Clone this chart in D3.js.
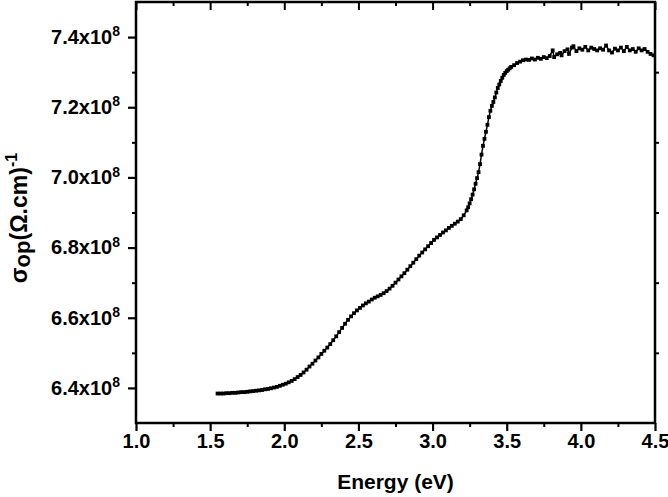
<!DOCTYPE html>
<html>
<head>
<meta charset="utf-8">
<script src="https://cdn.jsdelivr.net/npm/d3@7"></script>
<style>
  body { margin: 0; background: #fff; }
  svg text { font-family: "Liberation Sans", Arial, sans-serif; font-weight: bold; fill: #000; }
</style>
</head>
<body>
<svg id="chart"></svg>
<script>
// photon energy (eV)
const energy = [
  1.55, 1.57, 1.59, 1.61, 1.63, 1.65, 1.67, 1.69, 1.71, 1.73, 1.75, 1.77, 1.79,
  1.81, 1.83, 1.85, 1.87, 1.89, 1.91, 1.93, 1.95, 1.97, 1.99, 2.01, 2.03, 2.05,
  2.07, 2.09, 2.11, 2.13, 2.15, 2.17, 2.19, 2.21, 2.23, 2.25, 2.27, 2.29, 2.31,
  2.33, 2.35, 2.37, 2.39, 2.41, 2.43, 2.45, 2.47, 2.49, 2.51, 2.53, 2.55, 2.57,
  2.59, 2.61, 2.63, 2.65, 2.67, 2.69, 2.71, 2.73, 2.75, 2.77, 2.79, 2.81, 2.83,
  2.85, 2.87, 2.89, 2.91, 2.93, 2.95, 2.97, 2.99, 3.01, 3.03, 3.05, 3.07, 3.09,
  3.11, 3.13, 3.15, 3.17, 3.19, 3.21, 3.23, 3.24, 3.25, 3.26, 3.27, 3.28, 3.29,
  3.30, 3.31, 3.32, 3.33, 3.34, 3.35, 3.36, 3.37, 3.38, 3.39, 3.40, 3.41, 3.42,
  3.43, 3.44, 3.45, 3.46, 3.47, 3.48, 3.49, 3.50, 3.51, 3.52, 3.53, 3.55, 3.57,
  3.59, 3.61, 3.63, 3.65, 3.67, 3.69, 3.71, 3.73, 3.75, 3.77, 3.79, 3.81, 3.82,
  3.84, 3.86, 3.87, 3.89, 3.91, 3.92, 3.94, 3.95, 3.97, 3.99, 4.01, 4.03, 4.05,
  4.07, 4.09, 4.11, 4.13, 4.15, 4.17, 4.19, 4.21, 4.23, 4.25, 4.27, 4.29, 4.31,
  4.33, 4.35, 4.37, 4.39, 4.41, 4.43, 4.45, 4.47, 4.49
];

// optical conductivity, in units of 10^8 (Ω.cm)^-1
const sigmaOp = [
  6.384, 6.384, 6.384, 6.385, 6.385, 6.386, 6.386, 6.387, 6.388, 6.388, 6.389, 6.390, 6.391,
  6.392, 6.393, 6.394, 6.396, 6.397, 6.399, 6.401, 6.403, 6.406, 6.409, 6.412, 6.416, 6.420,
  6.425, 6.431, 6.437, 6.444, 6.452, 6.461, 6.469, 6.478, 6.487, 6.497, 6.506, 6.515, 6.525,
  6.536, 6.547, 6.559, 6.571, 6.583, 6.594, 6.604, 6.613, 6.621, 6.628, 6.635, 6.641, 6.646,
  6.652, 6.657, 6.661, 6.665, 6.670, 6.676, 6.683, 6.691, 6.700, 6.709, 6.718, 6.727, 6.737,
  6.747, 6.757, 6.767, 6.777, 6.786, 6.795, 6.804, 6.813, 6.822, 6.829, 6.836, 6.843, 6.849,
  6.856, 6.862, 6.868, 6.874, 6.881, 6.892, 6.906, 6.915, 6.926, 6.938, 6.951, 6.966, 6.982,
  6.998, 7.015, 7.038, 7.065, 7.090, 7.110, 7.130, 7.150, 7.172, 7.190, 7.204, 7.215, 7.228,
  7.242, 7.255, 7.265, 7.275, 7.284, 7.292, 7.298, 7.303, 7.307, 7.311, 7.315, 7.320, 7.326,
  7.330, 7.334, 7.336, 7.335, 7.339, 7.336, 7.341, 7.338, 7.343, 7.340, 7.346, 7.362, 7.343,
  7.351, 7.355, 7.348, 7.360, 7.365, 7.352, 7.370, 7.374, 7.360, 7.368, 7.364, 7.372, 7.362,
  7.370, 7.366, 7.362, 7.368, 7.364, 7.376, 7.362, 7.356, 7.367, 7.362, 7.370, 7.360, 7.372,
  7.362, 7.366, 7.358, 7.368, 7.362, 7.366, 7.358, 7.352, 7.348
];

// axis ticks
const xTicks = [1.0, 1.5, 2.0, 2.5, 3.0, 3.5, 4.0, 4.5];
const xMinorTicks = [1.25, 1.75, 2.25, 2.75, 3.25, 3.75, 4.25];
const yTicks = [6.4, 6.6, 6.8, 7.0, 7.2, 7.4];
const yMinorTicks = [6.5, 6.7, 6.9, 7.1, 7.3];

const config = {
  width: 668,
  height: 497,
  margin: { top: 2, right: 13, bottom: 74, left: 136 }
};

const width = config.width - config.margin.left - config.margin.right;
const height = config.height - config.margin.top - config.margin.bottom;

const svg = d3.select("#chart")
  .attr("width", config.width)
  .attr("height", config.height);

const chart = svg.append("g")
  .attr("transform", `translate(${config.margin.left},${config.margin.top})`);

// scales
const xScale = d3.scaleLinear().domain([1.0, 4.5]).range([0, width]);
const yScale = d3.scaleLinear().domain([6.3, 7.5]).range([height, 0]);

const data = energy.map((e, i) => ({ e: e, s: sigmaOp[i] }));

// helper: style an axis group
function styleAxis(g, lineWidth) {
  g.select(".domain").remove();
  g.selectAll(".tick line").attr("stroke", "#000").attr("stroke-width", lineWidth);
}

// bottom axis (major + minor)
const xAxisG = chart.append("g")
  .attr("transform", `translate(0,${height})`)
  .call(d3.axisBottom(xScale).tickValues(xTicks).tickSize(8).tickPadding(3)
    .tickFormat(d3.format(".1f")));
styleAxis(xAxisG, 2.2);
xAxisG.selectAll("text").style("font-size", "20px");

const xMinorG = chart.append("g")
  .attr("transform", `translate(0,${height})`)
  .call(d3.axisBottom(xScale).tickValues(xMinorTicks).tickSize(4).tickFormat(""));
styleAxis(xMinorG, 2);

// top axis, ticks inward
const xTopG = chart.append("g")
  .call(d3.axisTop(xScale).tickValues(xTicks).tickSize(-8).tickFormat(""));
styleAxis(xTopG, 2);
const xTopMinorG = chart.append("g")
  .call(d3.axisTop(xScale).tickValues(xMinorTicks).tickSize(-4).tickFormat(""));
styleAxis(xTopMinorG, 2);

// left axis (major + minor)
const yAxisG = chart.append("g")
  .call(d3.axisLeft(yScale).tickValues(yTicks).tickSize(8).tickPadding(8));
styleAxis(yAxisG, 2.2);
yAxisG.selectAll("text")
  .style("font-size", "20px")
  .each(function (d) {
    const t = d3.select(this).text(null);
    t.append("tspan").text(d3.format(".1f")(d) + "x10");
    t.append("tspan").text("8").attr("dy", "-0.55em").style("font-size", "14px");
  });

const yMinorG = chart.append("g")
  .call(d3.axisLeft(yScale).tickValues(yMinorTicks).tickSize(4).tickFormat(""));
styleAxis(yMinorG, 2);

// right axis, minor ticks only
const yRightG = chart.append("g")
  .attr("transform", `translate(${width},0)`)
  .call(d3.axisRight(yScale).tickValues(yMinorTicks).tickSize(4).tickFormat(""));
styleAxis(yRightG, 2);

// frame
chart.append("rect")
  .attr("width", width)
  .attr("height", height)
  .attr("fill", "none")
  .attr("stroke", "#000")
  .attr("stroke-width", 2.5);

// data line + square markers
const line = d3.line()
  .x(d => xScale(d.e))
  .y(d => yScale(d.s));

chart.append("path")
  .datum(data)
  .attr("fill", "none")
  .attr("stroke", "#000")
  .attr("stroke-width", 1.5)
  .attr("d", line);

const markerSize = 3.8;
chart.selectAll(".pt")
  .data(data)
  .join("rect")
  .attr("class", "pt")
  .attr("x", d => xScale(d.e) - markerSize / 2)
  .attr("y", d => yScale(d.s) - markerSize / 2)
  .attr("width", markerSize)
  .attr("height", markerSize)
  .attr("fill", "#000");

// axis titles
svg.append("text")
  .attr("x", config.margin.left + width / 2)
  .attr("y", 489)
  .attr("text-anchor", "middle")
  .style("font-size", "21px")
  .text("Energy (eV)");

const yLabel = svg.append("text")
  .attr("transform", "translate(27,218) rotate(-90)")
  .attr("text-anchor", "middle")
  .style("font-size", "23px");
yLabel.append("tspan").text("σ");
yLabel.append("tspan").text("op").attr("dy", "3").style("font-size", "22px");
yLabel.append("tspan").text("(Ω.cm)").attr("dy", "-3");
yLabel.append("tspan").text("-1").attr("dy", "-10").style("font-size", "16px");
</script>
</body>
</html>
